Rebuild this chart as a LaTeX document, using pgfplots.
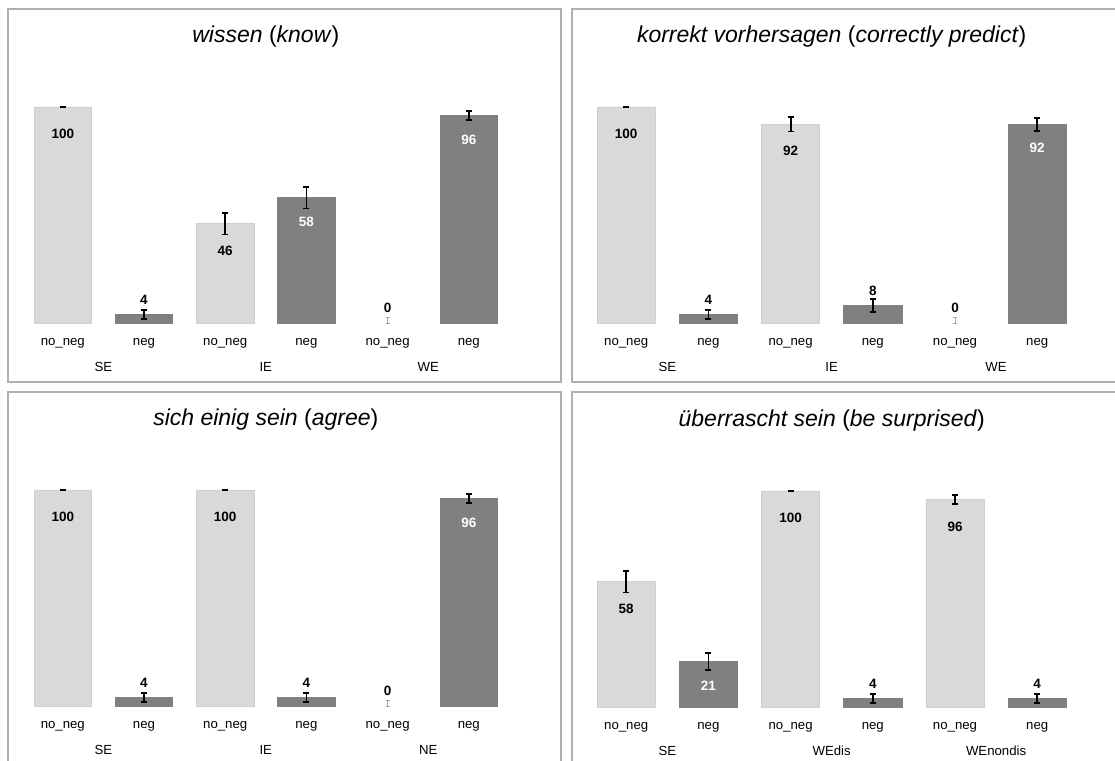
\documentclass[border=0pt]{standalone}
\usepackage{pgfplots}
\pgfplotsset{compat=1.18}
\usepackage{fontspec}
\setmainfont{Liberation Sans}
\definecolor{lightbar}{HTML}{D9D9D9}
\definecolor{lightedge}{HTML}{CFCFCF}
\definecolor{darkbar}{HTML}{808080}
\definecolor{framegray}{HTML}{B0B0B0}
\pgfplotsset{
  panel/.style={
    scale only axis, clip=false,
    /pgf/number format/assume math mode=true,
    ymin=0, ymax=100, height=216pt,
    xmin=-0.5, xmax=5.5,
    axis line style={draw=none},
    ytick=\empty,
    xtick={0,...,5},
    xticklabels={no\_neg,neg,no\_neg,neg,no\_neg,neg},
    major tick length=0pt,
    tick style={draw=none},
    xticklabel style={font=\fontsize{13.2}{15}\selectfont, anchor=center, yshift=-20.5pt},
    extra x ticks={0.5,2.5,4.5},
    extra x tick style={xticklabel style={yshift=-23.5pt}},
    title style={font=\fontsize{23}{27}\selectfont, anchor=center, at={(0.5,1)}, yshift=64pt},
  },
  errs/.style={error bars/.cd, y dir=both, y explicit,
    error mark=-,
    error bar style={black, line width=1.8pt},
    error mark options={black, line width=1.8pt, mark size=3pt, rotate=90}},
  lab/.style={nodes near coords,
    every node near coord/.append style={font=\fontsize{13.5}{16}\selectfont\bfseries, inner sep=0pt, #1}},
  lightbig/.style={ybar, bar width=0.708, bar shift=0pt, fill=lightbar, draw=lightedge, line width=0.6pt,
    lab={anchor=center, yshift=-27pt, text=black}, errs},
  darkbig/.style={ybar, bar width=0.708, bar shift=0pt, fill=darkbar, draw=darkbar, line width=0.6pt,
    lab={anchor=center, yshift=-24pt, text=white}, errs},
  darksmall/.style={ybar, bar width=0.708, bar shift=0pt, fill=darkbar, draw=darkbar, line width=0.6pt,
    lab={anchor=south, yshift=10pt, text=black}, errs},
  zerobar/.style={ybar, bar width=0.708, bar shift=0pt, fill=none, draw=none,
    lab={anchor=south, yshift=10pt, text=black},
    error bars/.cd, y dir=both, y explicit, error mark=-,
    error bar style={gray!70, line width=0.7pt},
    error mark options={gray!70, line width=0.7pt, mark size=2pt, rotate=90}},
}
\begin{document}
\begin{tikzpicture}
\useasboundingbox (0pt,0pt) rectangle (1115pt,760pt);
\draw[framegray, line width=2pt] (7.5pt,378pt) rectangle (561pt,751pt);
\draw[framegray, line width=2pt] (572pt,378pt) rectangle (1130pt,751pt);
\draw[framegray, line width=2pt] (7.5pt,-10pt) rectangle (561pt,368pt);
\draw[framegray, line width=2pt] (572pt,-10pt) rectangle (1130pt,368pt);

% Panel 1
\begin{axis}[panel, width=487.2pt, at={(22.2pt,437pt)}, anchor=south west,
  extra x tick labels={SE,IE,WE},
  title={\textit{wissen} (\textit{know})}]
\addplot[lightbig] coordinates {(0,100) +- (0,0) (2,46) +- (0,5)};
\addplot[zerobar] coordinates {(4,0) += (0,2.5) -= (0,0)};
\addplot[darksmall] coordinates {(1,4) +- (0,2)};
\addplot[darkbig] coordinates {(3,58) +- (0,5) (5,96) +- (0,2)};
\end{axis}

% Panel 2
\begin{axis}[panel, width=493.2pt, at={(585.1pt,437pt)}, anchor=south west,
  extra x tick labels={SE,IE,WE},
  title={\textit{korrekt vorhersagen} (\textit{correctly predict})}]
\addplot[lightbig] coordinates {(0,100) +- (0,0) (2,92) +- (0,3.3)};
\addplot[zerobar] coordinates {(4,0) += (0,2.5) -= (0,0)};
\addplot[darksmall] coordinates {(1,4) +- (0,2) (3,8) +- (0,3)};
\addplot[darkbig] coordinates {(5,92) +- (0,3)};
\end{axis}

% Panel 3
\begin{axis}[panel, width=487.2pt, at={(22.2pt,54pt)}, anchor=south west,
  extra x tick labels={SE,IE,NE},
  title={\textit{sich einig sein} (\textit{agree})}]
\addplot[lightbig] coordinates {(0,100) +- (0,0) (2,100) +- (0,0)};
\addplot[zerobar] coordinates {(4,0) += (0,2.5) -= (0,0)};
\addplot[darksmall] coordinates {(1,4) +- (0,2) (3,4) +- (0,2)};
\addplot[darkbig] coordinates {(5,96) +- (0,2)};
\end{axis}

% Panel 4
\begin{axis}[panel, width=493.2pt, at={(585.1pt,53pt)}, anchor=south west,
  extra x tick labels={SE,WEdis,WEnondis},
  title={\textit{überrascht sein} (\textit{be surprised})}]
\addplot[lightbig] coordinates {(0,58) +- (0,5) (2,100) +- (0,0) (4,96) +- (0,2)};
\addplot[darksmall] coordinates {(3,4) +- (0,2) (5,4) +- (0,2)};
\addplot[darkbig] coordinates {(1,21) +- (0,4)};
\end{axis}
\end{tikzpicture}
\end{document}
